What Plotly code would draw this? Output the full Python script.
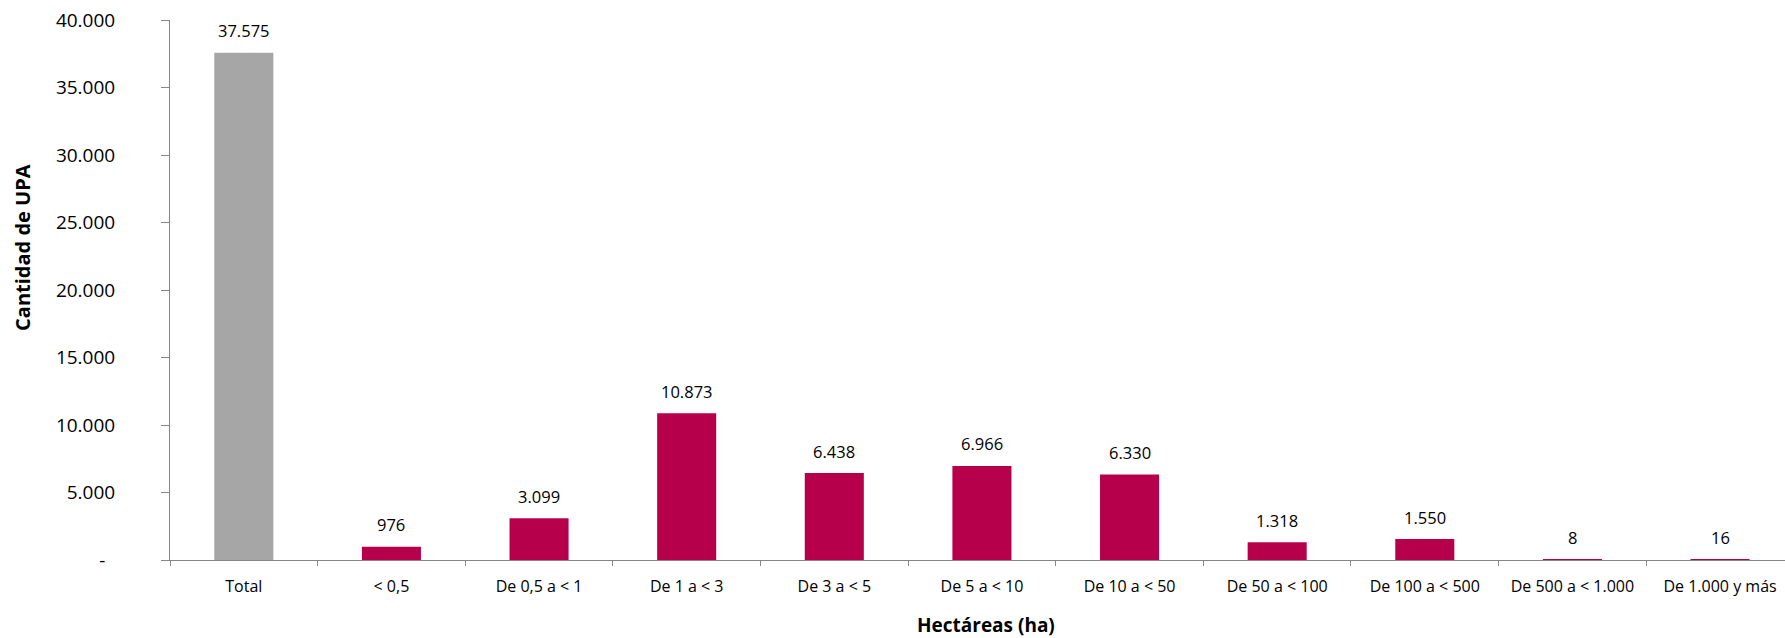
import plotly.graph_objects as go

categories = ["Total", "< 0,5", "De 0,5 a < 1", "De 1 a < 3", "De 3 a < 5", "De 5 a < 10",
              "De 10 a < 50", "De 50 a < 100", "De 100 a < 500", "De 500 a < 1.000", "De 1.000 y más"]
values = [37575, 976, 3099, 10873, 6438, 6966, 6330, 1318, 1550, 8, 16]
y_tickvals = [0, 5000, 10000, 15000, 20000, 25000, 30000, 35000, 40000]
y_ticktext = ["-\u00a0\u00a0", "5.000", "10.000", "15.000", "20.000", "25.000", "30.000", "35.000", "40.000"]

GRAY = "#A6A6A6"
RED = "#B7004B"
AXIS = "#868686"
FONT = "Open Sans"

colors = [GRAY] + [RED] * (len(categories) - 1)

def fmt(v):
    return f"{v:,}".replace(",", ".")

fig = go.Figure()
fig.add_trace(go.Bar(
    x=categories, y=values, marker=dict(color=colors, line=dict(width=0)),
    width=0.4, hoverinfo="x+y", showlegend=False,
))

for c, v in zip(categories, values):
    fig.add_annotation(x=c, y=v, xref="x", yref="y", text=fmt(v), showarrow=False,
                       yanchor="middle", yshift=22,
                       font=dict(family=FONT, size=16.5, color="#000000"))

fig.add_annotation(x=0.505, y=-0.12, xref="paper", yref="paper", text="<b>Hectáreas (ha)</b>",
                   showarrow=False, xanchor="center", yanchor="middle",
                   font=dict(family=FONT, size=19, color="#000000"))
fig.add_annotation(x=-0.091, y=0.578, xref="paper", yref="paper", text="<b>Cantidad de UPA</b>",
                   showarrow=False, textangle=-90, xanchor="center", yanchor="middle",
                   font=dict(family=FONT, size=20, color="#000000"))

fig.update_layout(
    width=1785, height=638,
    margin=dict(l=170, r=0, t=20, b=78, autoexpand=False),
    paper_bgcolor="white", plot_bgcolor="white",
    bargap=0.6,
    xaxis=dict(
        type="category", range=[-0.5, 10.44],
        showline=True, linecolor=AXIS, linewidth=1,
        ticks="outside", tickson="boundaries", ticklen=5, tickcolor=AXIS, tickwidth=1,
        showgrid=False, zeroline=False,
        tickfont=dict(family=FONT, size=16, color="#000000"),
        ticklabelstandoff=12,
    ),
    yaxis=dict(
        range=[0, 40000], tickvals=y_tickvals, ticktext=y_ticktext,
        showline=True, linecolor=AXIS, linewidth=1,
        ticks="outside", ticklen=8, tickcolor=AXIS, tickwidth=1,
        showgrid=False, zeroline=False,
        tickfont=dict(family=FONT, size=19, color="#000000"),
        ticklabelstandoff=42,
    ),
)

fig.write_html(
    "out.html",
    config={"displayModeBar": False},
    post_script="document.body.style.margin='0';document.body.style.overflow='hidden';",
)
